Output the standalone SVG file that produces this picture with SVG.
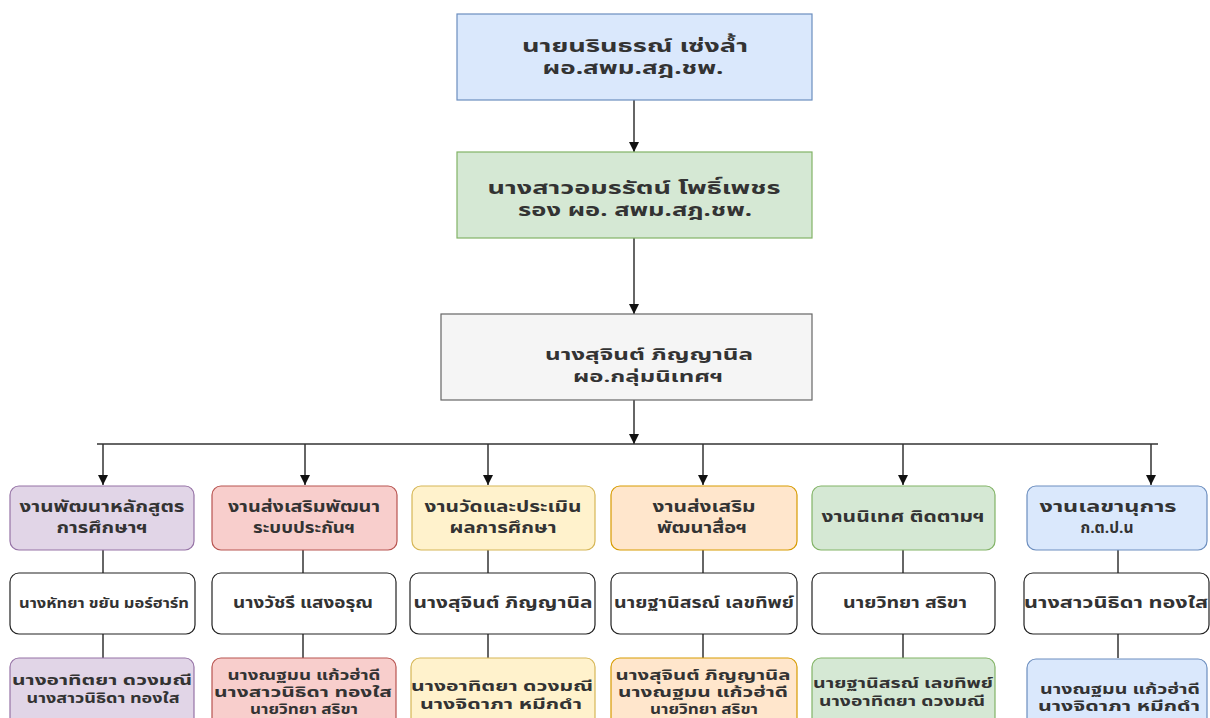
<svg xmlns="http://www.w3.org/2000/svg" width="1210" height="718" viewBox="0 0 1210 718">
<defs>
<marker id="arr" viewBox="0 0 10 10" refX="10" refY="5" markerWidth="10" markerHeight="10" markerUnits="userSpaceOnUse" orient="auto">
<path d="M0,0 L10,5 L0,10 Z" fill="#111"/>
</marker>
</defs>
<style>
text{font-family:"Noto Sans Thai","Noto Sans","DejaVu Sans",sans-serif;fill:#333;text-anchor:middle;font-weight:bold}
.big{font-size:18px}
.mid{font-size:15px}
.sm{font-size:14px}
.line{stroke:#333;stroke-width:1.5;fill:none}
.arrow{stroke:#333;stroke-width:1.5;fill:none;marker-end:url(#arr)}
.white{fill:#fff;stroke:#222;stroke-width:1.2}
.purple{fill:#e1d5e7;stroke:#9673a6;stroke-width:1.2}
.red{fill:#f8cecc;stroke:#b85450;stroke-width:1.2}
.yellow{fill:#fff2cc;stroke:#d6b656;stroke-width:1.2}
.orange{fill:#ffe6cc;stroke:#d79b00;stroke-width:1.2}
.green{fill:#d5e8d4;stroke:#82b366;stroke-width:1.2}
.blue{fill:#dae8fc;stroke:#6c8ebf;stroke-width:1.2}
.gray{fill:#f5f5f5;stroke:#666;stroke-width:1.2}
</style>
<rect width="1210" height="718" fill="#fff"/>
<g id="connectors">
<line class="arrow" x1="634" y1="100" x2="634" y2="152"/>
<line class="arrow" x1="634" y1="238" x2="634" y2="314"/>
<line class="arrow" x1="634" y1="400" x2="634" y2="444"/>
<line class="line" x1="97" y1="444" x2="1158" y2="444"/>
<line class="arrow" x1="103" y1="444" x2="103" y2="485"/>
<line class="arrow" x1="305" y1="444" x2="305" y2="485"/>
<line class="arrow" x1="488" y1="444" x2="488" y2="485"/>
<line class="arrow" x1="703" y1="444" x2="703" y2="485"/>
<line class="arrow" x1="903" y1="444" x2="903" y2="485"/>
<line class="arrow" x1="1151" y1="444" x2="1151" y2="485"/>
<line class="line" x1="103" y1="550" x2="103" y2="573"/>
<line class="line" x1="103" y1="634" x2="103" y2="658"/>
<line class="line" x1="303" y1="550" x2="303" y2="573"/>
<line class="line" x1="303" y1="634" x2="303" y2="658"/>
<line class="line" x1="488" y1="550" x2="488" y2="573"/>
<line class="line" x1="488" y1="634" x2="488" y2="658"/>
<line class="line" x1="703" y1="550" x2="703" y2="573"/>
<line class="line" x1="703" y1="634" x2="703" y2="658"/>
<line class="line" x1="903" y1="550" x2="903" y2="573"/>
<line class="line" x1="903" y1="634" x2="903" y2="658"/>
<line class="line" x1="1118" y1="550" x2="1118" y2="573"/>
<line class="line" x1="1118" y1="634" x2="1118" y2="658"/>
</g>
<g id="director">
<rect class="blue" x="457" y="14" width="355" height="86"/>
<text class="big" x="635" y="52" textLength="226" lengthAdjust="spacingAndGlyphs">นายนรินธรณ์ เซ่งล้ำ</text>
<text class="big" x="633" y="74" textLength="181" lengthAdjust="spacingAndGlyphs">ผอ.สพม.สฎ.ชพ.</text>
</g>
<g id="deputy">
<rect class="green" x="457" y="152" width="355" height="86"/>
<text class="big" x="634" y="194" textLength="293" lengthAdjust="spacingAndGlyphs">นางสาวอมรรัตน์ โพธิ์เพชร</text>
<text class="big" x="635" y="216" textLength="234" lengthAdjust="spacingAndGlyphs">รอง ผอ. สพม.สฎ.ชพ.</text>
</g>
<g id="supervisor">
<rect class="gray" x="441" y="314" width="371" height="86"/>
<text class="mid" x="649" y="360" textLength="208" lengthAdjust="spacingAndGlyphs">นางสุจินต์  ภิญญานิล</text>
<text class="mid" x="648" y="382" textLength="150" lengthAdjust="spacingAndGlyphs">ผอ.กลุ่มนิเทศฯ</text>
</g>
<g id="col1">
<g id="c1-head"><rect class="purple" x="10" y="486" width="184" height="64" rx="9"/>
<text class="mid" x="102" y="512" textLength="165" lengthAdjust="spacingAndGlyphs">งานพัฒนาหลักสูตร</text>
<text class="mid" x="102" y="533" textLength="91" lengthAdjust="spacingAndGlyphs">การศึกษาฯ</text></g>
<g id="c1-lead"><rect class="white" x="10" y="573" width="185" height="61" rx="9"/>
<text class="sm" x="104" y="608" textLength="170" lengthAdjust="spacingAndGlyphs">นางหัทยา ขยัน มอร์ฮาร์ท</text></g>
<g id="c1-team"><rect class="purple" x="10" y="658" width="184" height="70" rx="9"/>
<text class="sm" x="102" y="685" textLength="180" lengthAdjust="spacingAndGlyphs">นางอาทิตยา  ดวงมณี</text>
<text class="sm" x="103" y="703" textLength="153" lengthAdjust="spacingAndGlyphs">นางสาวนิธิดา ทองใส</text></g>
</g>
<g id="col2">
<g id="c2-head"><rect class="red" x="212" y="486" width="185" height="64" rx="9"/>
<text class="mid" x="304" y="512" textLength="152" lengthAdjust="spacingAndGlyphs">งานส่งเสริมพัฒนา</text>
<text class="mid" x="304" y="533" textLength="102" lengthAdjust="spacingAndGlyphs">ระบบประกันฯ</text></g>
<g id="c2-lead"><rect class="white" x="212" y="573" width="184" height="61" rx="9"/>
<text class="mid" x="303" y="608" textLength="140" lengthAdjust="spacingAndGlyphs">นางวัชรี  แสงอรุณ</text></g>
<g id="c2-team"><rect class="red" x="212" y="658" width="184" height="70" rx="9"/>
<text class="sm" x="304" y="680" textLength="153" lengthAdjust="spacingAndGlyphs">นางณฐมน แก้วฮ่าดี</text>
<text class="sm" x="303" y="697" textLength="178" lengthAdjust="spacingAndGlyphs">นางสาวนิธิดา ทองใส</text>
<text class="sm" x="304" y="714" textLength="108" lengthAdjust="spacingAndGlyphs">นายวิทยา สริขา</text></g>
</g>
<g id="col3">
<g id="c3-head"><rect class="yellow" x="412" y="486" width="183" height="64" rx="9"/>
<text class="mid" x="503" y="512" textLength="157" lengthAdjust="spacingAndGlyphs">งานวัดและประเมิน</text>
<text class="mid" x="503" y="533" textLength="107" lengthAdjust="spacingAndGlyphs">ผลการศึกษา</text></g>
<g id="c3-lead"><rect class="white" x="410" y="573" width="185" height="61" rx="9"/>
<text class="mid" x="503" y="608" textLength="179" lengthAdjust="spacingAndGlyphs">นางสุจินต์ ภิญญานิล</text></g>
<g id="c3-team"><rect class="yellow" x="411" y="658" width="184" height="70" rx="9"/>
<text class="sm" x="502" y="691" textLength="182" lengthAdjust="spacingAndGlyphs">นางอาทิตยา ดวงมณี</text>
<text class="sm" x="501" y="709" textLength="162" lengthAdjust="spacingAndGlyphs">นางจิดาภา  หมีกดำ</text></g>
</g>
<g id="col4">
<g id="c4-head"><rect class="orange" x="611" y="486" width="186" height="64" rx="9"/>
<text class="mid" x="704" y="512" textLength="103" lengthAdjust="spacingAndGlyphs">งานส่งเสริม</text>
<text class="mid" x="702" y="533" textLength="90" lengthAdjust="spacingAndGlyphs">พัฒนาสื่อฯ</text></g>
<g id="c4-lead"><rect class="white" x="611" y="573" width="186" height="61" rx="9"/>
<text class="mid" x="704" y="608" textLength="180" lengthAdjust="spacingAndGlyphs">นายฐานิสรณ์ เลขทิพย์</text></g>
<g id="c4-team"><rect class="orange" x="611" y="658" width="186" height="70" rx="9"/>
<text class="sm" x="703" y="680" textLength="175" lengthAdjust="spacingAndGlyphs">นางสุจินต์ ภิญญานิล</text>
<text class="sm" x="703" y="697" textLength="170" lengthAdjust="spacingAndGlyphs">นางณฐมน แก้วฮ่าดี</text>
<text class="sm" x="704" y="714" textLength="108" lengthAdjust="spacingAndGlyphs">นายวิทยา สริขา</text></g>
</g>
<g id="col5">
<g id="c5-head"><rect class="green" x="812" y="486" width="183" height="64" rx="9"/>
<text class="mid" x="903" y="522" textLength="163" lengthAdjust="spacingAndGlyphs">งานนิเทศ ติดตามฯ</text></g>
<g id="c5-lead"><rect class="white" x="812" y="573" width="183" height="61" rx="9"/>
<text class="mid" x="905" y="608" textLength="124" lengthAdjust="spacingAndGlyphs">นายวิทยา สริขา</text></g>
<g id="c5-team"><rect class="green" x="812" y="658" width="183" height="70" rx="9"/>
<text class="sm" x="903" y="688" textLength="180" lengthAdjust="spacingAndGlyphs">นายฐานิสรณ์ เลขทิพย์</text>
<text class="sm" x="902" y="706" textLength="166" lengthAdjust="spacingAndGlyphs">นางอาทิตยา ดวงมณี</text></g>
</g>
<g id="col6">
<g id="c6-head"><rect class="blue" x="1027" y="486" width="180" height="64" rx="9"/>
<text class="mid" x="1108" y="512" textLength="137" lengthAdjust="spacingAndGlyphs">งานเลขานุการ</text>
<text class="mid" x="1107" y="533" textLength="53" lengthAdjust="spacingAndGlyphs">ก.ต.ป.น</text></g>
<g id="c6-lead"><rect class="white" x="1024" y="573" width="185" height="61" rx="9"/>
<text class="mid" x="1116" y="608" textLength="184" lengthAdjust="spacingAndGlyphs">นางสาวนิธิดา ทองใส</text></g>
<g id="c6-team"><rect class="blue" x="1027" y="659" width="180" height="70" rx="9"/>
<text class="sm" x="1120" y="694" textLength="160" lengthAdjust="spacingAndGlyphs">นางณฐมน แก้วฮ่าดี</text>
<text class="sm" x="1119" y="711" textLength="162" lengthAdjust="spacingAndGlyphs">นางจิดาภา  หมีกดำ</text></g>
</g>
</svg>
